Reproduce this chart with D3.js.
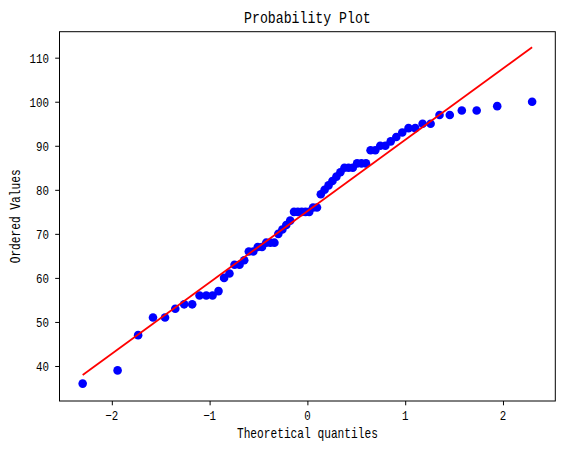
<!DOCTYPE html>
<head>
	<meta charset="utf-8" />
	<style>
		body {
			margin: 0;
			background-color: #fff;
		}
		text {
			font-family: 'Liberation Mono', 'DejaVu Sans Mono', monospace;
			fill: #000;
		}
	</style>
</head>
<body>
	<div id="chart-area"></div>

	<script src="https://cdnjs.cloudflare.com/ajax/libs/d3/7.8.5/d3.min.js"></script>
	<script>
		// theoretical quantiles, sorted
		var quantiles = [
			-2.298, -1.941, -1.731, -1.579, -1.456, -1.351, -1.26, -1.178,
			-1.103, -1.034, -0.97, -0.909, -0.852, -0.797, -0.745, -0.694,
			-0.646, -0.599, -0.553, -0.508, -0.464, -0.421, -0.379, -0.337,
			-0.297, -0.256, -0.216, -0.176, -0.137, -0.098, -0.058, -0.019,
			0.019, 0.058, 0.098, 0.137, 0.176, 0.216, 0.256, 0.297,
			0.337, 0.379, 0.421, 0.464, 0.508, 0.553, 0.599, 0.646,
			0.694, 0.745, 0.797, 0.852, 0.909, 0.97, 1.034, 1.103,
			1.178, 1.26, 1.351, 1.456, 1.579, 1.731, 1.941, 2.298,
		];
		// ordered values
		var ordered = [
			36, 39, 47, 51, 51, 53, 54, 54, 56, 56, 56, 57, 60, 61, 63, 63,
			64, 66, 66, 67, 67, 68, 68, 68, 70, 71, 72, 73, 75, 75, 75, 75,
			75, 76, 76, 79, 80, 81, 82, 83, 84, 85, 85, 85, 86, 86, 86, 89,
			89, 90, 90, 91, 92, 93, 94, 94, 95, 95, 97, 97, 98, 98, 99, 100,
		];
		// least squares fit line
		var fitSlope = 16.19;
		var fitIntercept = 75.16;

		var xTicks = [-2, -1, 0, 1, 2];
		var yTicks = [40, 50, 60, 70, 80, 90, 100, 110];

		var width = 565,
			height = 452;
		var margins = { top: 31.7, right: 9.7, bottom: 51, left: 59.5 };

		var svg = d3
			.select('#chart-area')
			.append('svg')
			.attr('width', width)
			.attr('height', height);

		var x = d3
			.scaleLinear()
			.domain([-2.535, 2.535])
			.range([margins.left, width - margins.right]);
		var y = d3
			.scaleLinear()
			.domain([32.05, 115.9])
			.range([height - margins.bottom, margins.top]);

		// squeezed mono text, to look like the narrow gothic font
		function label(g, px, py, str, size, anchor, rotate) {
			return g
				.append('g')
				.attr(
					'transform',
					`translate(${px},${py})` + (rotate ? ` rotate(${rotate})` : '') + ' scale(0.8,1)'
				)
				.append('text')
				.attr('text-anchor', anchor)
				.style('font-size', size + 'px')
				.text(str);
		}

		var points = quantiles.map((q, i) => ({ q: q, v: ordered[i] }));

		svg.append('g')
			.selectAll('circle')
			.data(points)
			.join('circle')
			.attr('cx', d => x(d.q))
			.attr('cy', d => y(d.v))
			.attr('r', 4.3)
			.attr('fill', '#0000ff');

		var line = d3
			.line()
			.x(d => x(d))
			.y(d => y(fitIntercept + fitSlope * d));

		svg.append('path')
			.datum(d3.extent(quantiles))
			.attr('d', line)
			.attr('fill', 'none')
			.attr('stroke', '#ff0000')
			.attr('stroke-width', 1.8);

		// axes
		var xAxis = d3.axisBottom(x).tickValues(xTicks).tickSize(4.3).tickFormat(() => '');
		var yAxis = d3.axisLeft(y).tickValues(yTicks).tickSize(4.3).tickFormat(() => '');

		var gx = svg
			.append('g')
			.attr('transform', `translate(0,${height - margins.bottom})`)
			.call(xAxis);
		var gy = svg.append('g').attr('transform', `translate(${margins.left},0)`).call(yAxis);
		[gx, gy].forEach(g => {
			g.select('.domain').remove();
			g.selectAll('line').attr('stroke', '#000').attr('stroke-width', 1);
		});

		xTicks.forEach(t => {
			label(svg, x(t), 420, t < 0 ? '\u2212' + Math.abs(t) : String(t), 13.5, 'middle');
		});
		yTicks.forEach(t => {
			label(svg, 49, y(t) + 5, String(t), 13.5, 'end');
		});

		svg.append('rect')
			.attr('x', margins.left)
			.attr('y', margins.top)
			.attr('width', width - margins.left - margins.right)
			.attr('height', height - margins.top - margins.bottom)
			.attr('fill', 'none')
			.attr('stroke', '#000')
			.attr('stroke-width', 1);

		var cx = (margins.left + width - margins.right) / 2;
		var cy = (margins.top + height - margins.bottom) / 2;
		label(svg, cx, 23, 'Probability Plot', 16.5, 'middle');
		label(svg, cx, 438, 'Theoretical quantiles', 14, 'middle');
		label(svg, 20, cy, 'Ordered Values', 14, 'middle', -90);
	</script>
</body>
